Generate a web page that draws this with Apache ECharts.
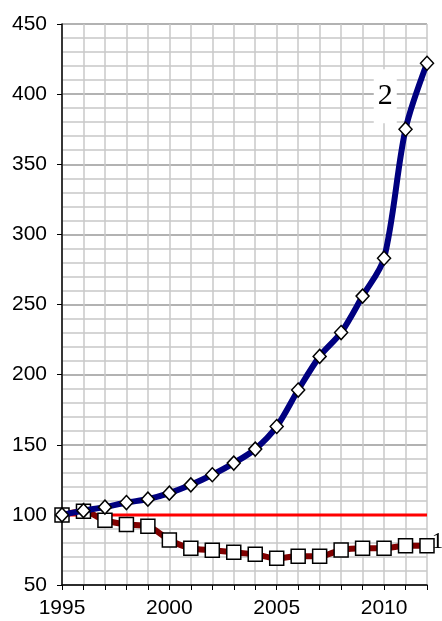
<!DOCTYPE html>
<html><head><meta charset="utf-8">
<script src="https://cdn.jsdelivr.net/npm/echarts@6/dist/echarts.min.js"></script>
<style>html,body{margin:0;padding:0;background:#fff}#c{width:442px;height:621px}</style>
</head><body><div id="c"></div>
<script>
const years = [1995,1996,1997,1998,1999,2000,2001,2002,2003,2004,2005,2006,2007,2008,2009,2010,2011,2012];
const series2 = [100,103,105.5,108.8,111.2,115.5,121.4,128.6,136.9,146.9,163,189,213,230,256,283,375,422];
const series1 = [100,102.5,96.2,93.1,91.9,82.1,76.2,74.8,73.3,71.9,69,70.5,70.5,75,76.2,76.2,77.9,77.9];
const baseline = [100,100];
const baseYears = [1995,2012];
const xLabels = [1995,2000,2005,2010];
const name1 = '1', name2 = '2';

const last = years.length - 1;
function build(vals, lbl){
  return years.map((y,i)=>{
    const d = {value:[y, vals[i]]};
    if (i === last) d.label = lbl;
    return d;
  });
}

const chart = echarts.init(document.getElementById('c'));
chart.setOption({
  animation:false,
  grid:{left:62,right:15,top:24,bottom:36,containLabel:false},
  xAxis:{type:'value',min:1995,max:2012,interval:1,
    axisLine:{show:true,lineStyle:{color:'#000',width:1.5}},
    axisTick:{show:true,length:5,lineStyle:{color:'#000'}},
    axisLabel:{formatter:v=>xLabels.includes(v)?String(v):'',color:'#000',fontFamily:'Liberation Sans',fontSize:21,margin:13},
    splitLine:{show:true,lineStyle:{color:'#c8c8c8',width:1.5}}},
  yAxis:{type:'value',min:50,max:450,interval:50,
    axisLine:{show:true,lineStyle:{color:'#000',width:1.5}},
    axisTick:{show:true,length:5,lineStyle:{color:'#000'}},
    axisLabel:{color:'#000',fontFamily:'Liberation Sans',fontSize:21,margin:15},
    splitLine:{show:true,lineStyle:{color:'#999',width:1.5}},
    minorTick:{show:false,splitNumber:5},
    minorSplitLine:{show:true,lineStyle:{color:'#c8c8c8',width:1.5}}},
  series:[
    {type:'line',data:baseYears.map((y,i)=>[y,baseline[i]]),symbol:'none',z:1,
     lineStyle:{color:'#ff0000',width:3}},
    {type:'line',data:build(series1,{show:true,formatter:name1,position:'right',distance:0,offset:[-3,-4],
       color:'#000',fontFamily:'Liberation Serif',fontSize:23}),smooth:0.3,z:2,
     symbol:'rect',symbolSize:14,
     itemStyle:{color:'#fff',borderColor:'#000',borderWidth:1.5},
     lineStyle:{color:'#800000',width:6}},
    {type:'line',data:build(series2,{show:true,formatter:name2,position:'left',
       offset:[-18,33],color:'#000',fontFamily:'Liberation Serif',fontSize:30,
       backgroundColor:'#fff',padding:[12,4,12,4]}),smooth:0.3,z:3,
     symbol:'diamond',symbolSize:[13,14],
     itemStyle:{color:'#fff',borderColor:'#000',borderWidth:1.5},
     lineStyle:{color:'#000080',width:6}}
  ]
});
</script></body></html>
